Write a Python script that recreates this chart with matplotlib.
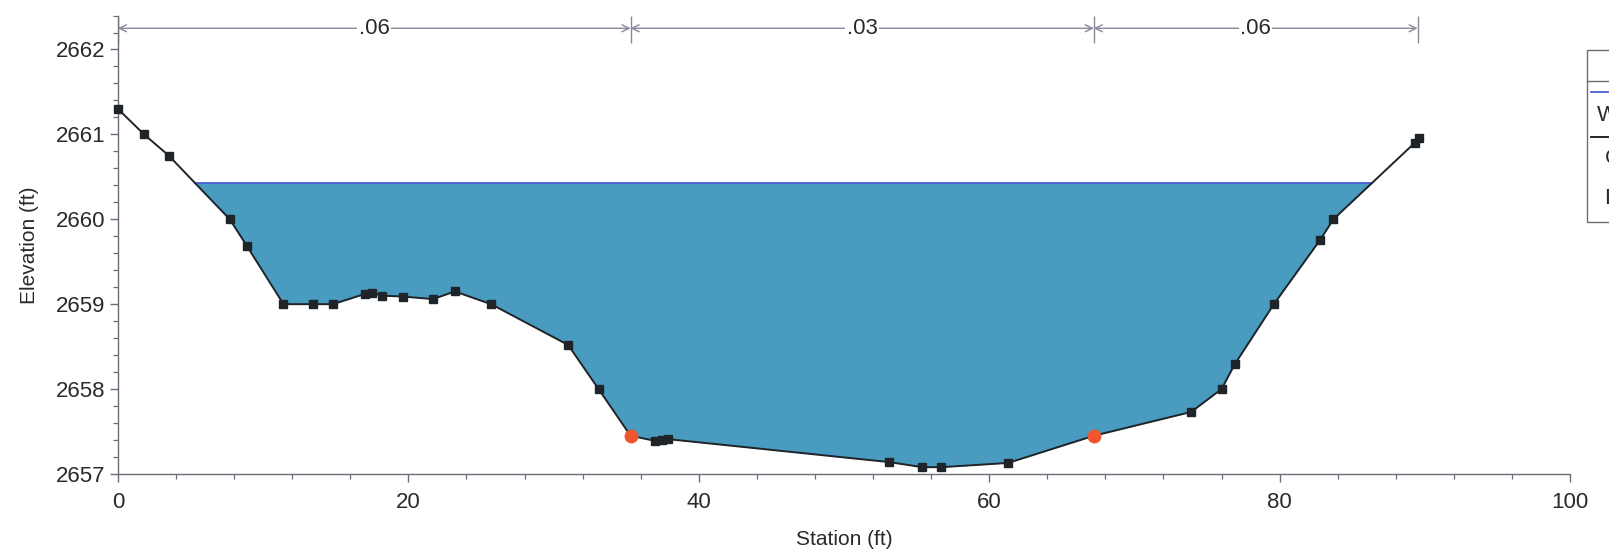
#!/usr/bin/env python3
"""
plot.py

Cross section plot: ground profile, water surface and Manning n values.
"""

import numpy as np
import matplotlib
matplotlib.use("Agg")
import matplotlib.pyplot as plt
from matplotlib.lines import Line2D
from matplotlib.patches import Rectangle


# ==========================================================
# Data
# ==========================================================

STATION = [0.0, 1.8, 3.5, 7.7, 8.9, 11.4, 13.4, 14.8, 17.0, 17.5,
           18.2, 19.6, 21.7, 23.2, 25.7, 31.0, 33.1, 35.3, 37.0, 37.5,
           37.9, 53.1, 55.4, 56.7, 61.3, 67.2, 73.9, 76.0, 76.9, 79.6,
           82.8, 83.7, 89.3, 89.6]

ELEVATION = [2661.30, 2661.00, 2660.75, 2660.00, 2659.68, 2659.00, 2659.00,
             2659.00, 2659.12, 2659.13, 2659.10, 2659.09, 2659.06, 2659.15,
             2659.00, 2658.52, 2658.00, 2657.45, 2657.39, 2657.40, 2657.41,
             2657.14, 2657.08, 2657.08, 2657.13, 2657.45, 2657.73, 2658.00,
             2658.29, 2659.00, 2659.76, 2660.00, 2660.90, 2660.96]

BANK_STATIONS = [35.3, 67.2]

WS_ELEVATION = 2660.43

N_BREAKS = [0.0, 35.3, 67.2, 89.5]
N_VALUES = [".06", ".03", ".06"]

LEGEND_LABELS = ["WS PF 1", "Ground", "Bank Sta"]


# ==========================================================
# Style
# ==========================================================

WATER_FILL = "#4a9bc0"
WATER_LINE = "#3f4fd6"
GROUND_COLOR = "#1f2429"
BANK_COLOR = "#f0552e"
N_COLOR = "#8d8598"
AXIS_COLOR = "#6f6a78"
TEXT_COLOR = "#2a2a2a"

plt.rcParams["font.family"] = ["Liberation Sans", "DejaVu Sans"]


# ==========================================================
# Helpers
# ==========================================================

def ws_extent(x, z, ws):
    """Left / right stations where the water surface meets the ground."""

    x = np.asarray(x)
    z = np.asarray(z)

    wet = np.where(z <= ws)[0]
    i0, i1 = wet[0], wet[-1]

    xl = np.interp(ws, [z[i0], z[i0 - 1]], [x[i0], x[i0 - 1]])
    xr = np.interp(ws, [z[i1], z[i1 + 1]], [x[i1], x[i1 + 1]])

    return xl, xr


# ==========================================================
# Main
# ==========================================================

def main():

    x = np.asarray(STATION)
    z = np.asarray(ELEVATION)

    fig = plt.figure(figsize=(16.09, 5.55), dpi=100)

    ax = fig.add_axes([0.0733, 0.146, 0.9025, 0.826])

    # water
    ax.fill_between(
        x, z, WS_ELEVATION,
        where=z <= WS_ELEVATION,
        interpolate=True,
        color=WATER_FILL,
        linewidth=0,
        zorder=1
    )

    xl, xr = ws_extent(x, z, WS_ELEVATION)

    ax.plot([xl, xr], [WS_ELEVATION, WS_ELEVATION],
            color=WATER_LINE, lw=1.2, zorder=2)

    # ground
    ax.plot(x, z,
            color=GROUND_COLOR, lw=1.4,
            marker="s", markersize=6,
            clip_on=False,
            zorder=3)

    # bank stations
    bank_z = np.interp(BANK_STATIONS, x, z)
    ax.plot(BANK_STATIONS, bank_z,
            linestyle="none",
            marker="o", markersize=9,
            color=BANK_COLOR, zorder=4)

    # Manning n values
    y_arrow = 2662.25

    ax.vlines(N_BREAKS, 2662.08, 2662.40,
              color=N_COLOR, lw=1.0, zorder=2)

    for i, label in enumerate(N_VALUES):

        x0 = N_BREAKS[i]
        x1 = N_BREAKS[i + 1]

        ax.annotate(
            "",
            xy=(x0, y_arrow),
            xytext=(x1, y_arrow),
            arrowprops=dict(
                arrowstyle="<->,head_length=0.5,head_width=0.25",
                color=N_COLOR,
                lw=1.0,
                shrinkA=0,
                shrinkB=0
            ),
            zorder=2
        )

        ax.text(
            (x0 + x1) / 2, y_arrow, label,
            ha="center", va="center",
            fontsize=16, color=TEXT_COLOR,
            bbox=dict(facecolor="white", edgecolor="none", pad=1.0),
            zorder=3
        )

    # axes
    ax.set_xlim(0, 100)
    ax.set_ylim(2657, 2662.4)

    ax.set_xticks(np.arange(0, 101, 20))
    ax.set_xticks(np.arange(0, 101, 4), minor=True)
    ax.set_yticks(np.arange(2657, 2663, 1))
    ax.set_yticks(np.arange(2657, 2662.41, 0.2), minor=True)

    for side in ["top", "right"]:
        ax.spines[side].set_visible(False)

    for side in ["left", "bottom"]:
        ax.spines[side].set_color(AXIS_COLOR)
        ax.spines[side].set_linewidth(1.0)

    ax.tick_params(which="major", length=6, width=1.0,
                   color=AXIS_COLOR, labelsize=16,
                   labelcolor=TEXT_COLOR)
    ax.tick_params(which="minor", length=3.5, width=0.9,
                   color=AXIS_COLOR)
    ax.tick_params(axis="x", pad=7)
    ax.tick_params(axis="y", pad=3)

    ax.set_xlabel("Station (ft)", fontsize=15, color=TEXT_COLOR,
                  labelpad=12)
    ax.set_ylabel("Elevation (ft)", fontsize=15, color=TEXT_COLOR,
                  labelpad=12)

    # legend box (cut off at the right edge)
    fig.patches.append(
        Rectangle((0.9863, 0.60), 0.05, 0.31,
                  transform=fig.transFigure,
                  facecolor="white", edgecolor=AXIS_COLOR, lw=1.0)
    )

    fig.lines.append(
        Line2D([0.9863, 1.0], [0.854, 0.854],
               transform=fig.transFigure, color=AXIS_COLOR, lw=1.0)
    )
    fig.lines.append(
        Line2D([0.9888, 1.0], [0.834, 0.834],
               transform=fig.transFigure, color=WATER_LINE, lw=1.2)
    )
    fig.lines.append(
        Line2D([0.9888, 1.0], [0.753, 0.753],
               transform=fig.transFigure, color=GROUND_COLOR, lw=1.4)
    )

    for label, xx, yy in zip(LEGEND_LABELS,
                             [0.9925, 0.9975, 0.9975],
                             [0.792, 0.715, 0.643]):
        fig.text(xx, yy, label,
                 ha="left", va="center",
                 fontsize=16, color=TEXT_COLOR)

    fig.savefig("out.png", dpi=100)


if __name__ == "__main__":
    main()
